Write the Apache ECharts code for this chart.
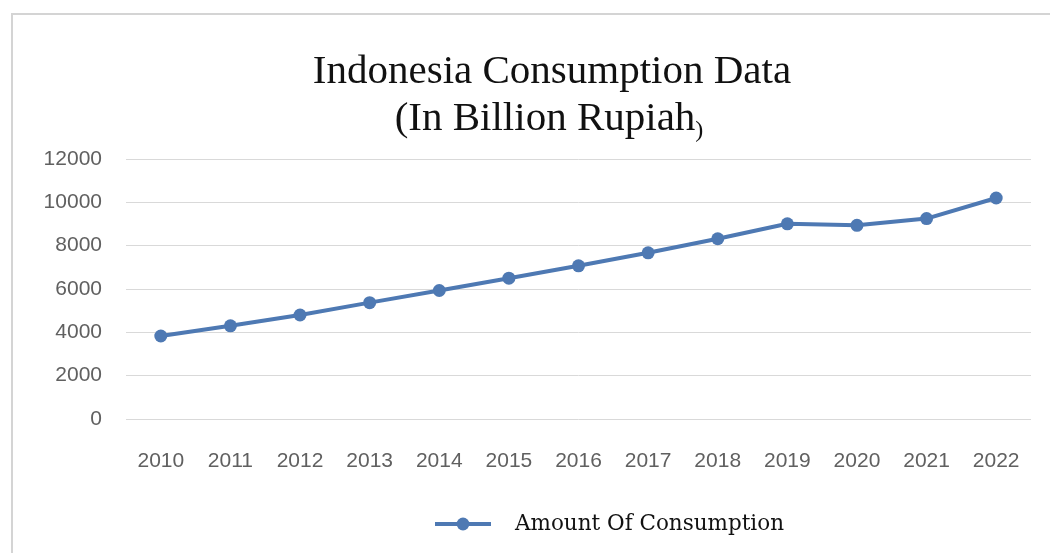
<!DOCTYPE html>
<html>
<head>
<meta charset="utf-8">
<script src="https://cdn.jsdelivr.net/npm/echarts@6/dist/echarts.min.js"></script>
<style>
  html, body { margin: 0; padding: 0; background: #fff; }
  #chart { width: 1050px; height: 553px; }
</style>
</head>
<body>
<div id="chart"></div>
<script>
// 数据
const years = ["2010", "2011", "2012", "2013", "2014", "2015", "2016",
  "2017", "2018", "2019", "2020", "2021", "2022"];
const consumption = [3830, 4300, 4800, 5370, 5930, 6500, 7070,
  7670, 8320, 9010, 8940, 9250, 10200];
const seriesName = "Amount Of Consumption";

const titleFont = {
  fontFamily: "Liberation Serif",
  fontWeight: "normal",
  fontSize: 41,
  lineHeight: 47,
  color: "#111",
};

const chart = echarts.init(document.getElementById("chart"));
const option = {
  backgroundColor: "#ffffff",
  animation: false,
  title: [
    {
      text: "Indonesia Consumption Data",
      left: 547,
      textAlign: "center",
      top: 44,
      textStyle: titleFont,
    },
    {
      text: "{t|(In Billion Rupiah}{s|)}",
      left: 544,
      textAlign: "center",
      top: 91,
      textStyle: {
        fontWeight: "normal",
        rich: {
          t: titleFont,
          s: Object.assign({}, titleFont, { fontSize: 24, verticalAlign: "bottom" }),
        },
      },
    },
  ],
  legend: {
    left: 428,
    top: 508,
    itemWidth: 56,
    itemHeight: 16,
    data: [seriesName],
    lineStyle: { width: 4 },
    textStyle: {
      fontFamily: "DejaVu Serif",
      fontSize: 21.5,
      color: "#111",
      padding: [0, 0, 0, 19],
    },
  },
  grid: {
    left: 126,
    right: 19,
    top: 159,
    bottom: 134,
  },
  xAxis: {
    type: "category",
    data: years,
    axisLine: { show: false },
    axisTick: { show: false },
    axisLabel: {
      margin: 32,
      fontFamily: "Liberation Sans",
      fontSize: 21,
      color: "#606060",
    },
  },
  yAxis: {
    type: "value",
    min: 0,
    max: 12000,
    interval: 2000,
    axisLine: { show: false },
    axisTick: { show: false },
    axisLabel: {
      margin: 24,
      fontFamily: "Liberation Sans",
      fontSize: 21,
      color: "#606060",
      formatter: (v) => String(v),
    },
    splitLine: {
      lineStyle: { color: "#d9d9d9", width: 1 },
    },
  },
  series: [
    {
      name: seriesName,
      type: "line",
      data: consumption,
      symbol: "circle",
      symbolSize: 13,
      itemStyle: { color: "#4e79b3" },
      lineStyle: { color: "#4e79b3", width: 4 },
    },
  ],
  graphic: [
    {
      type: "rect",
      shape: { x: 12, y: 14, width: 1060, height: 560 },
      style: { fill: "none", stroke: "#d4d4d4", lineWidth: 2 },
      silent: true,
      z: -1,
    },
  ],
};
chart.setOption(option);
</script>
</body>
</html>
